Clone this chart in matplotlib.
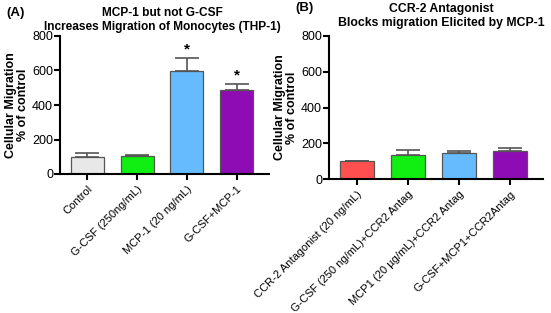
import matplotlib
matplotlib.use("Agg")
import matplotlib.pyplot as plt
import numpy as np

plt.rcParams['font.family'] = ['Liberation Sans', 'DejaVu Sans']

cats_a = ["Control", "G-CSF (250ng/mL)", "MCP-1 (20 ng/mL)", "G-CSF+MCP-1"]
vals_a = [100, 103, 597, 487]
err_a = [22, 8, 75, 33]
stars_a = ["", "", "*", "*"]
colors_a = ["#e8e8e8", "#11ee11", "#66bbff", "#8e0cb4"]

cats_b = ["CCR-2 Antagonist (20 ng/mL)", "G-CSF (250 ng/mL)+CCR2 Antag",
          "MCP1 (20 \u00b5g/mL)+CCR2 Antag", "G-CSF+MCP1+CCR2Antag"]
vals_b = [98, 136, 143, 159]
err_b = [3, 27, 14, 13]
colors_b = ["#ff4f4f", "#11ee11", "#66bbff", "#8e0cb4"]

W, H = 551, 313
fig = plt.figure(figsize=(W/100, H/100), dpi=100)

def box(l, t, r, b):
    return [l/W, 1-b/H, (r-l)/W, (b-t)/H]

axA = fig.add_axes(box(60, 36, 269, 174))
axB = fig.add_axes(box(329, 36, 543, 179))

def style(ax, cats, vals, errs, colors):
    x = np.arange(len(cats))
    ax.bar(x, vals, width=0.66, color=colors, edgecolor="#555555", linewidth=0.9, zorder=2)
    ax.errorbar(x, vals, yerr=[np.zeros(len(vals)), errs], fmt="none",
                ecolor="#555555", elinewidth=1.2, capsize=8.5, capthick=1.2, zorder=1)
    ax.set_xlim(-0.55, len(cats) - 0.35)
    ax.set_ylim(0, 800)
    ax.set_yticks([0, 200, 400, 600, 800])
    ax.set_xticks(x)
    ax.set_xticklabels(cats, rotation=45, ha="right", rotation_mode="anchor", fontsize=8)
    for s in ["top", "right"]:
        ax.spines[s].set_visible(False)
    for s in ["left", "bottom"]:
        ax.spines[s].set_linewidth(1.5)
    ax.tick_params(axis="both", direction="out", length=4, width=1.5, labelsize=9, pad=1)
    ax.tick_params(axis="x", labelsize=8, pad=3)
    ax.set_ylabel("Cellular Migration\n% of control", fontsize=9, fontweight="bold", labelpad=2, linespacing=1.0)
    return x

xa = style(axA, cats_a, vals_a, err_a, colors_a)
for xi, v, e, s in zip(xa, vals_a, err_a, stars_a):
    if s:
        axA.text(xi, v + e + 8, s, ha="center", va="bottom", fontsize=11, fontweight="bold")
style(axB, cats_b, vals_b, err_b, colors_b)

fig.text(162/W, 1-20/H, "MCP-1 but not G-CSF\nIncreases Migration of Monocytes (THP-1)",
         ha="center", va="center", fontsize=8.6, fontweight="bold", linespacing=1.15)
fig.text(6/W, 1-13/H, "(A)", ha="left", va="center", fontsize=9.5, fontweight="bold")
fig.text(441/W, 1-16/H, "CCR-2 Antagonist\nBlocks migration Elicited by MCP-1",
         ha="center", va="center", fontsize=8.8, fontweight="bold", linespacing=1.2)
fig.text(304/W, 1-8/H, "(B)", ha="center", va="center", fontsize=9.5, fontweight="bold")

fig.savefig("out.png", dpi=100)
